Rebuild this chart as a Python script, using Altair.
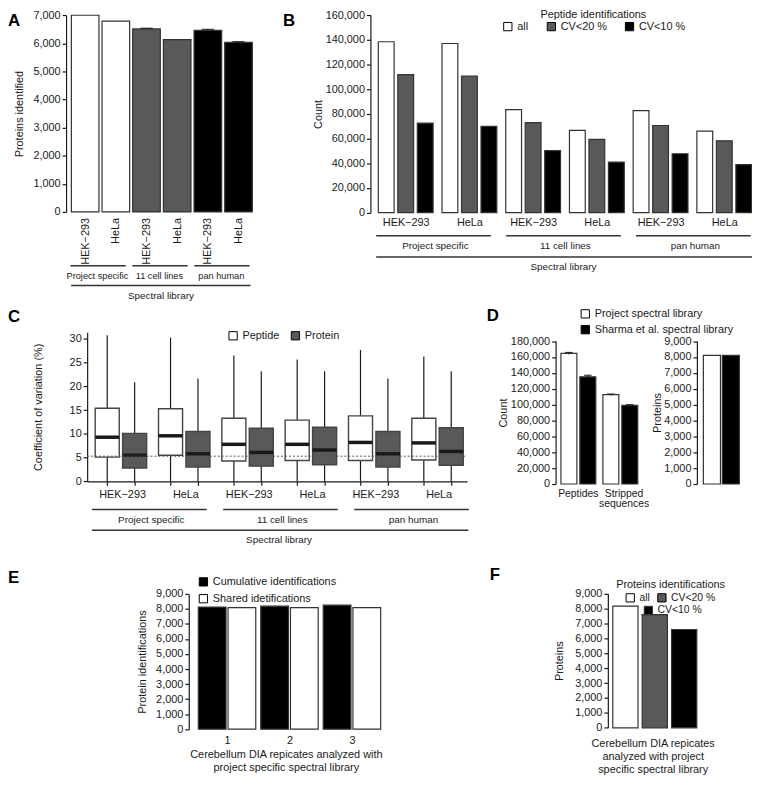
import altair as alt
import pandas as pd

# ============================== DATA ==============================
libraries = ["Project specific", "11 cell lines", "pan human"]
cells = ["HEK−293", "HeLa"]
library_title = "Spectral library"

# A  proteins identified
A_proteins = [7000, 6790, 6515, 6135, 6465, 6040]
A_error = [0, 0, 25, 0, 35, 20]

# B  peptide identifications
B_series = ["all", "CV<20 %", "CV<10 %"]
B_all = [138400, 137000, 83500, 66600, 82600, 66100]
B_cv20 = [111800, 110700, 72900, 59300, 70600, 58200]
B_cv10 = [72500, 69900, 50300, 40900, 47700, 38900]

# C  coefficient of variation (box plots)
C_series = ["Peptide", "Protein"]
C_pep_low = [0, 0, 0, 0, 0, 0]
C_pep_q1 = [5.1, 5.5, 4.3, 4.4, 4.4, 4.5]
C_pep_median = [9.3, 9.6, 7.8, 7.8, 8.2, 8.1]
C_pep_q3 = [15.4, 15.3, 13.3, 12.9, 13.8, 13.3]
C_pep_high = [30.8, 30.3, 26.5, 25.7, 27.7, 26.3]
C_prot_low = [0, 0, 0, 0, 0, 0]
C_prot_q1 = [2.8, 3.0, 3.2, 3.5, 3.0, 3.4]
C_prot_median = [5.5, 5.8, 6.1, 6.6, 5.8, 6.3]
C_prot_q3 = [10.1, 10.5, 11.2, 11.4, 10.5, 11.3]
C_prot_high = [20.9, 21.7, 23.2, 23.2, 21.7, 23.2]
C_reference_cv = 5.3

# D
D_groups = ["Peptides", "Stripped\nsequences"]
D_series = ["Project spectral library", "Sharma et al. spectral library"]
D_project = [164500, 112500]
D_project_err = [1200, 800]
D_sharma = [135000, 99000]
D_sharma_err = [2000, 900]
D_proteins = [8100, 8100]

# E
E_replicates = ["1", "2", "3"]
E_series = ["Cumulative identifications", "Shared idetifications"]
E_cumulative = [8120, 8180, 8250]
E_shared = [8080, 8090, 8080]
E_title = ["Cerebellum DIA repicates analyzed with", "project specific spectral library"]

# F
F_series = ["all", "CV<20 %", "CV<10 %"]
F_proteins = [8150, 7580, 6590]
F_legend_title = "Proteins identifications"
F_title = ["Cerebellum DIA repicates", "analyzed with project", "specific spectral library"]

# ============================== LAYOUT / STYLE ==============================
W, H = 752, 770


def X(p):
    return p - 8


def Y(p):
    if p < 16:
        return (p - 1) * 8 / 15
    if p <= 560:
        return p - 8
    return 552 + (p - 560) * 218 / 228


FONT = "Liberation Sans"
INK = "#1a1a1a"
GRAY = "#595959"
EDGE = "#333333"
NUM = ",.0f"


def js_list(items):
    parts = []
    for it in items:
        if "\n" in it:
            parts.append("[" + ",".join("'" + s + "'" for s in it.split("\n")) + "]")
        else:
            parts.append("'" + it + "'")
    return "[" + ",".join(parts) + "]"


def letter(t, px, py):
    return alt.Chart(pd.DataFrame({"t": [t]})).mark_text(
        font=FONT, fontSize=17, fontWeight="bold", align="left", baseline="middle", color="black"
    ).encode(x=alt.value(max(0, X(px))), y=alt.value(max(9.5, Y(py))), text="t:N")


def bracket_layers(scale, names, lo, hi, mid, line_p, label_p, size=10):
    df = pd.DataFrame({"name": names, "lo": lo, "hi": hi, "mid": mid})
    rule = alt.Chart(df).mark_rule(color=EDGE, strokeWidth=1.5).encode(
        x=alt.X("lo:Q", scale=scale, axis=None), x2="hi", y=alt.value(Y(line_p)))
    text = alt.Chart(df).mark_text(font=FONT, fontSize=size, color=INK).encode(
        x=alt.X("mid:Q", scale=scale, axis=None), y=alt.value(Y(label_p)), text="name:N")
    return [rule, text]


def leg(**kw):
    base = dict(orient="none", symbolType="square", symbolSize=70, symbolStrokeColor="black",
                symbolStrokeWidth=1, labelOffset=4, padding=0, title=None)
    base.update(kw)
    return alt.Legend(**base)


def panel(*layers):
    return alt.layer(*layers).resolve_axis(x="independent", y="independent")


# ============================== PANEL A ==============================
A_df = pd.DataFrame({
    "library": [l for l in libraries for _ in cells],
    "cell": cells * 3,
    "proteins": A_proteins,
    "error": A_error,
})
A_df["i"] = range(len(A_df))
A_df["x0"] = A_df["i"] + 0.05
A_df["x1"] = A_df["i"] + 0.95
A_df["xc"] = A_df["i"] + 0.5
A_df["lo"] = A_df["proteins"] - A_df["error"]
A_df["hi"] = A_df["proteins"] + A_df["error"]
A_df["c0"] = A_df["xc"] - 0.2
A_df["c1"] = A_df["xc"] + 0.2

A_x = alt.Scale(domain=[0, 6], range=[X(70.5), X(256.5)], nice=False)
A_y = alt.Scale(domain=[0, 7000], range=[Y(210), Y(7)], nice=False)

A_bars = alt.Chart(A_df).mark_bar(stroke=EDGE, strokeWidth=1.2).encode(
    x=alt.X("x0:Q", scale=A_x, axis=alt.Axis(
        orient="bottom", offset=Y(215.5) - H, values=list(A_df["xc"]),
        labelExpr=js_list(cells) + "[floor(datum.value) % 2]", labelAngle=270,
        domain=False, ticks=False, labelPadding=0, title=None)),
    x2="x1",
    y=alt.Y("proteins:Q", scale=A_y, axis=alt.Axis(
        orient="left", offset=-X(66.7), values=list(range(0, 7001, 1000)), format=NUM,
        title="Proteins identified", titlePadding=9)),
    y2=alt.datum(0),
    fill=alt.Fill("library:N", scale=alt.Scale(domain=libraries, range=["white", GRAY, "black"]), legend=None),
)
A_err_df = A_df[A_df["error"] > 0]
A_err = alt.Chart(A_err_df).mark_rule(color=INK, strokeWidth=1).encode(
    x=alt.X("xc:Q", scale=A_x, axis=None), y=alt.Y("lo:Q", scale=A_y, axis=None), y2="hi")
A_cap = alt.Chart(A_err_df).mark_rule(color=INK, strokeWidth=1).encode(
    x=alt.X("c0:Q", scale=A_x, axis=None), x2="c1", y=alt.Y("hi:Q", scale=A_y, axis=None))
A_lo = [2.02 * k + 0.02 for k in range(3)]
panel_A = panel(
    A_bars, A_err, A_cap,
    *bracket_layers(A_x, libraries, A_lo, [v + 1.8 for v in A_lo], [v + 0.88 for v in A_lo], 264.3, 275, 9.3),
    *bracket_layers(A_x, [library_title], [0.04], [5.89], [2.97], 284.3, 295),
    letter("A", 1, 9),
)

# ============================== PANEL B ==============================
B_rows = []
for li, lib in enumerate(libraries):
    for ci, cell in enumerate(cells):
        g = 2 * li + ci
        for j, (s, vals) in enumerate(zip(B_series, [B_all, B_cv20, B_cv10])):
            x0 = g + 0.124 + 0.306 * j
            B_rows.append({"library": lib, "cell": cell, "series": s, "count": vals[g],
                           "x0": x0, "x1": x0 + 0.248})
B_df = pd.DataFrame(B_rows)
B_x = alt.Scale(domain=[0, 6], range=[X(374.3), X(760.7)], nice=False)
B_y = alt.Scale(domain=[0, 160000], range=[Y(210.7), Y(6.7)], nice=False)
B_bars = alt.Chart(B_df).mark_bar(stroke=EDGE, strokeWidth=1.2).encode(
    x=alt.X("x0:Q", scale=B_x, axis=alt.Axis(
        orient="bottom", offset=Y(212.5) - H, values=[g + 0.554 for g in range(6)],
        labelExpr=js_list(cells) + "[floor(datum.value) % 2]",
        domain=False, ticks=False, labelPadding=2, title=None)),
    x2="x1",
    y=alt.Y("count:Q", scale=B_y, axis=alt.Axis(
        orient="left", offset=-X(374.3), values=list(range(0, 160001, 20000)), format=NUM,
        title="Count", titlePadding=2)),
    y2=alt.datum(0),
    fill=alt.Fill("series:N", scale=alt.Scale(domain=B_series, range=["white", GRAY, "black"]),
                  legend=leg(legendX=X(507.7), legendY=-3, direction="horizontal",
                             title="Peptide identifications", titleAnchor="middle", titlePadding=1,
                             columnPadding=16)),
)
B_lo = [2.04 * k + 0.09 for k in range(3)]
panel_B = panel(
    B_bars,
    *bracket_layers(B_x, libraries, B_lo, [v + 1.8 for v in B_lo], [v + 0.93 for v in B_lo], 234, 244.3),
    *bracket_layers(B_x, [library_title], [0.09], [5.99], [3.03], 255.5, 265.5),
    letter("B", 286, 9),
)

# ============================== PANEL C ==============================
C_rows = []
stats = {
    "Peptide": (C_pep_low, C_pep_q1, C_pep_median, C_pep_q3, C_pep_high, 0.317),
    "Protein": (C_prot_low, C_prot_q1, C_prot_median, C_prot_q3, C_prot_high, 0.75),
}
for li, lib in enumerate(libraries):
    for ci, cell in enumerate(cells):
        k = 2 * li + ci
        for s in C_series:
            lo, q1, med, q3, hi, off = stats[s]
            c = k + off
            C_rows.append({"library": lib, "cell": cell, "series": s, "center": c,
                           "x0": c - 0.19, "x1": c + 0.19, "low": lo[k], "q1": q1[k],
                           "median": med[k], "q3": q3[k], "high": hi[k]})
C_df = pd.DataFrame(C_rows)
C_x = alt.Scale(domain=[0, 6], range=[X(88), X(472)], nice=False)
C_y = alt.Scale(domain=[0, 31.4], range=[Y(482.3), Y(331.7)], nice=False)

C_whisk_hi = alt.Chart(C_df).mark_rule(color=INK, strokeWidth=1.2).encode(
    x=alt.X("center:Q", scale=C_x, axis=alt.Axis(
        orient="bottom", offset=Y(482.3) - H, values=list(C_df["center"]),
        labelExpr="(datum.value - floor(datum.value)) < 0.5 ? " + js_list(cells) + "[floor(datum.value) % 2] : ''",
        labelOffset=15, labelPadding=3, title=None)),
    y=alt.Y("q3:Q", scale=C_y, axis=alt.Axis(
        orient="left", offset=-X(88), values=list(range(0, 31, 5)),
        title="Coefficient of variation (%)", titlePadding=26)),
    y2="high",
)
C_whisk_lo = alt.Chart(C_df).mark_rule(color=INK, strokeWidth=1.2).encode(
    x=alt.X("center:Q", scale=C_x, axis=None), y=alt.Y("low:Q", scale=C_y, axis=None), y2="q1")
C_box = alt.Chart(C_df).mark_bar(stroke="#444444", strokeWidth=1.4).encode(
    x=alt.X("x0:Q", scale=C_x, axis=None), x2="x1",
    y=alt.Y("q1:Q", scale=C_y, axis=None), y2="q3",
    fill=alt.Fill("series:N", scale=alt.Scale(domain=C_series, range=["white", GRAY]),
                  legend=leg(legendX=X(230), legendY=Y(335) - 5.5, direction="horizontal",
                             columnPadding=9)),
)
C_med = alt.Chart(C_df).mark_rule(color=INK, strokeWidth=3.5).encode(
    x=alt.X("x0:Q", scale=C_x, axis=None), x2="x1", y=alt.Y("median:Q", scale=C_y, axis=None))
C_ref = alt.Chart(pd.DataFrame({"cv": [C_reference_cv], "a": [0], "b": [6]})).mark_rule(
    color="#555555", strokeWidth=1, strokeDash=[2, 2]).encode(
    x=alt.X("a:Q", scale=C_x, axis=None), x2="b", y=alt.Y("cv:Q", scale=C_y, axis=None))
C_lo = [2.07 * k + 0.078 for k in range(3)]
panel_C = panel(
    C_whisk_hi, C_whisk_lo, C_box, C_med, C_ref,
    *bracket_layers(C_x, libraries, C_lo, [v + 1.81 for v in C_lo], [v + 0.935 for v in C_lo], 510.7, 521),
    *bracket_layers(C_x, [library_title], [0.078], [6.02], [3.03], 531.7, 541.7),
    letter("C", 1, 316),
)

# ============================== PANEL D ==============================
D_rows = []
for g, grp in enumerate(D_groups):
    for s, vals, errs, off in [(D_series[0], D_project, D_project_err, 0.127),
                               (D_series[1], D_sharma, D_sharma_err, 0.578)]:
        x0 = g + off
        D_rows.append({"group": grp, "series": s, "count": vals[g], "x0": x0, "x1": x0 + 0.38,
                       "xc": x0 + 0.19, "c0": x0 + 0.1, "c1": x0 + 0.28,
                       "lo": vals[g] - errs[g], "hi": vals[g] + errs[g]})
D_df = pd.DataFrame(D_rows)
D_x = alt.Scale(domain=[0, 2], range=[X(561.5), X(646.3)], nice=False)
D_y = alt.Scale(domain=[0, 180000], range=[Y(485), Y(340.5)], nice=False)
D_bars = alt.Chart(D_df).mark_bar(stroke=EDGE, strokeWidth=1.2).encode(
    x=alt.X("x0:Q", scale=D_x, axis=alt.Axis(
        orient="bottom", offset=Y(486.5) - H, values=[0.53, 1.62],
        labelExpr=js_list(D_groups) + "[floor(datum.value)]", labelLineHeight=10.5,
        labelFontSize=10.5, domain=False, ticks=False, labelPadding=3, title=None)),
    x2="x1",
    y=alt.Y("count:Q", scale=D_y, axis=alt.Axis(
        orient="left", offset=-X(561.5), values=list(range(0, 180001, 20000)), format=NUM,
        title="Count", titlePadding=2)),
    y2=alt.datum(0),
    fill=alt.Fill("series:N", scale=alt.Scale(domain=D_series, range=["white", "black"]),
                  legend=leg(legendX=X(586), legendY=Y(313) - 5.5, direction="vertical", rowPadding=3)),
)
D_err = alt.Chart(D_df).mark_rule(color=INK, strokeWidth=1).encode(
    x=alt.X("xc:Q", scale=D_x, axis=None), y=alt.Y("lo:Q", scale=D_y, axis=None), y2="hi")
D_cap = alt.Chart(D_df).mark_rule(color=INK, strokeWidth=1).encode(
    x=alt.X("c0:Q", scale=D_x, axis=None), x2="c1", y=alt.Y("hi:Q", scale=D_y, axis=None))
panel_D = panel(D_bars, D_err, D_cap, letter("D", 492, 315))

D2_df = pd.DataFrame({"series": D_series, "proteins": D_proteins, "x0": [0.14, 0.55]})
D2_df["x1"] = D2_df["x0"] + 0.37
D2_x = alt.Scale(domain=[0, 1], range=[X(704.3), X(751)], nice=False)
D2_y = alt.Scale(domain=[0, 9000], range=[Y(485), Y(340.5)], nice=False)
panel_D2 = alt.Chart(D2_df).mark_bar(stroke=EDGE, strokeWidth=1.2).encode(
    x=alt.X("x0:Q", scale=D2_x, axis=None), x2="x1",
    y=alt.Y("proteins:Q", scale=D2_y, axis=alt.Axis(
        orient="left", offset=-X(704.3), values=list(range(0, 9001, 1000)), format=NUM,
        title="Proteins", titlePadding=1)),
    y2=alt.datum(0),
    fill=alt.Fill("series:N", scale=alt.Scale(domain=D_series, range=["white", "black"]), legend=None),
)

# ============================== PANEL E ==============================
E_rows = []
for g, rep in enumerate(E_replicates):
    E_rows.append({"replicate": rep, "series": E_series[0], "proteins": E_cumulative[g],
                   "x0": g + 0.153, "x1": g + 0.597})
    E_rows.append({"replicate": rep, "series": E_series[1], "proteins": E_shared[g],
                   "x0": g + 0.629, "x1": g + 1.073})
E_df = pd.DataFrame(E_rows)
E_x = alt.Scale(domain=[0, 3.11], range=[X(190.7), X(387)], nice=False)
E_y = alt.Scale(domain=[0, 9000], range=[Y(740.7), Y(597.7)], nice=False)
panel_E = panel(
    alt.Chart(E_df).mark_bar(stroke=EDGE, strokeWidth=1.2).encode(
        x=alt.X("x0:Q", scale=E_x, axis=alt.Axis(
            orient="bottom", offset=Y(740.7) - H, values=[g + 0.613 for g in range(3)],
            labelExpr=js_list(E_replicates) + "[floor(datum.value)]",
            domain=False, ticks=False, labelPadding=5, title=E_title, titlePadding=4,
            titleLineHeight=13)),
        x2="x1",
        y=alt.Y("proteins:Q", scale=E_y, axis=alt.Axis(
            orient="left", offset=-X(190.7), values=list(range(0, 9001, 1000)), format=NUM,
            title="Protein identifications", titlePadding=8)),
        y2=alt.datum(0),
        fill=alt.Fill("series:N", scale=alt.Scale(domain=E_series, range=["black", "white"]),
                      legend=leg(legendX=X(200), legendY=Y(585) - 5.5, direction="vertical", rowPadding=4)),
    ),
    letter("E", 1, 581),
)

# ============================== PANEL F ==============================
F_df = pd.DataFrame({"series": F_series, "proteins": F_proteins})
F_df["series_cv10"] = F_df["series"]
F_df["x0"] = [i + 0.168 for i in range(len(F_df))]
F_df["x1"] = F_df["x0"] + 0.859
F_x = alt.Scale(domain=[0, 3.05], range=[X(614.3), X(704.9)], nice=False)
F_y = alt.Scale(domain=[0, 9000], range=[Y(739.3), Y(597.3)], nice=False)
F_leg_top = Y(582.5)
panel_F = panel(
    alt.Chart(F_df).mark_bar(strokeWidth=1.2).encode(
        x=alt.X("x0:Q", scale=F_x, axis=alt.Axis(
            orient="bottom", offset=Y(739.3) - H, labels=False, domain=False, ticks=False,
            title=F_title, titlePadding=10, titleLineHeight=13)),
        x2="x1",
        y=alt.Y("proteins:Q", scale=F_y, axis=alt.Axis(
            orient="left", offset=-X(614.3), values=list(range(0, 9001, 1000)), format=NUM,
            title="Proteins", titlePadding=10)),
        y2=alt.datum(0),
        fill=alt.Fill("series:N", scale=alt.Scale(domain=F_series, range=["white", GRAY, "black"]),
                      legend=leg(legendX=X(622.7), legendY=F_leg_top, direction="horizontal",
                                 values=F_series[:2], title=F_legend_title, titleAnchor="middle",
                                 titlePadding=2, columnPadding=5, labelFontSize=10.5)),
        stroke=alt.Stroke("series_cv10:N",
                          scale=alt.Scale(domain=F_series[::-1], range=[EDGE, EDGE, EDGE]),
                          legend=leg(legendX=X(650), legendY=F_leg_top + 11 + 2 + 13,
                                     values=F_series[2:], symbolFillColor="black", labelFontSize=10.5)),
    ),
    letter("F", 495, 578),
)

# ============================== COMPOSE ==============================
chart = alt.layer(
    panel_A, panel_B, panel_C, panel_D, panel_D2, panel_E, panel_F
).resolve_scale(
    x="independent", y="independent", fill="independent", stroke="independent"
).resolve_axis(
    x="independent", y="independent"
).resolve_legend(
    fill="independent", stroke="independent"
).properties(
    width=W, height=H, autosize=alt.AutoSizeParams(type="none"), padding=0
).configure(
    font=FONT
).configure_view(
    stroke=None
).configure_axis(
    labelFont=FONT, labelFontSize=11, labelColor=INK, titleFont=FONT, titleFontSize=11,
    titleFontWeight="normal", titleColor=INK, domainColor=INK, tickColor=INK, tickSize=4,
    domainWidth=1.2, tickWidth=1.2, grid=False, labelFlush=False, labelOverlap=False
).configure_legend(
    labelFont=FONT, labelFontSize=11, labelColor=INK, titleFont=FONT, titleFontSize=11,
    titleFontWeight="normal", titleColor=INK
)

chart.save("out.html", embed_options={"renderer": "svg", "actions": False})
